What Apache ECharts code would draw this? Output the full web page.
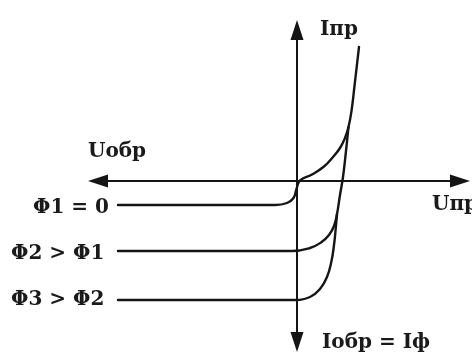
<!DOCTYPE html>
<html>
<head>
<meta charset="utf-8">
<script src="https://cdn.jsdelivr.net/npm/echarts@6/dist/echarts.min.js"></script>
<style>
html,body{margin:0;padding:0;background:#fff;}
#c{width:472px;height:356px;}
</style>
</head>
<body>
<div id="c"></div>
<script>
// I-V characteristics of a photodiode (arbitrary units: U, I)
var curveNames = ['Φ1 = 0', 'Φ2 > Φ1', 'Φ3 > Φ2'];
var phi1 = [[-17.9,-2.4],[-8,-2.4],[-2.2,-2.4],[-1.0,-2.2],[-0.35,-1.7],[-0.05,-0.8],[0.3,0.05],[1.5,0.65],[2.7,1.45],[3.6,2.4],[4.3,3.3],[4.8,4.3],[5.15,5.4],[5.45,7.0],[5.75,9.5],[6.2,13.4]];
var phi2 = [[-17.9,-7.0],[-8,-7.0],[-0.5,-7.0],[1.3,-6.7],[2.4,-6.15],[3.2,-5.4],[3.7,-4.5],[4.0,-3.3],[4.3,-1.4],[4.6,0.4],[4.9,3.0],[5.15,5.4]];
var phi3 = [[-17.9,-11.9],[-8,-11.9],[-0.5,-11.9],[1.3,-11.6],[2.3,-10.8],[3.0,-9.6],[3.45,-8.0],[3.7,-6.4],[3.85,-5.0],[4.0,-3.3]];

var chart = echarts.init(document.getElementById('c'), null, {renderer:'canvas'});
var lineColor = '#151515';
var font = 'DejaVu Serif';
function curve(name, data){
  return {
    name: name, type:'line', data:data, showSymbol:false, symbol:'none',
    smooth:0.45, clip:false,
    lineStyle:{color:lineColor, width:2.4, cap:'round', join:'round'}
  };
}
function txt(text, left, top){
  return {type:'text', left:left, top:top, style:{text:text, fill:'#1a1a1a', font:'bold 20px "' + font + '"'}};
}
chart.setOption({
  animation:false,
  backgroundColor:'#ffffff',
  grid:{left:98, right:12, top:30, bottom:14, containLabel:false},
  xAxis:{
    type:'value', min:-19.9, max:16.3,
    axisLine:{show:true, onZero:true, symbol:['triangle','triangle'], symbolSize:[13,20], lineStyle:{color:lineColor, width:2}},
    axisTick:{show:false}, axisLabel:{show:false}, splitLine:{show:false}
  },
  yAxis:{
    type:'value', min:-16.1, max:15.1,
    axisLine:{show:true, onZero:true, symbol:['triangle','triangle'], symbolSize:[13,20], lineStyle:{color:lineColor, width:2}},
    axisTick:{show:false}, axisLabel:{show:false}, splitLine:{show:false}
  },
  series:[curve(curveNames[0], phi1), curve(curveNames[1], phi2), curve(curveNames[2], phi3)],
  graphic:[
    txt('Uобр', 88, 142),
    txt('Iпр', 320, 20),
    txt('Uпр', 432, 195),
    txt('Iобр = Iф', 322, 333),
    txt(curveNames[0], 33, 198),
    txt(curveNames[1], 11, 244),
    txt(curveNames[2], 11, 290)
  ]
});
</script>
</body>
</html>
